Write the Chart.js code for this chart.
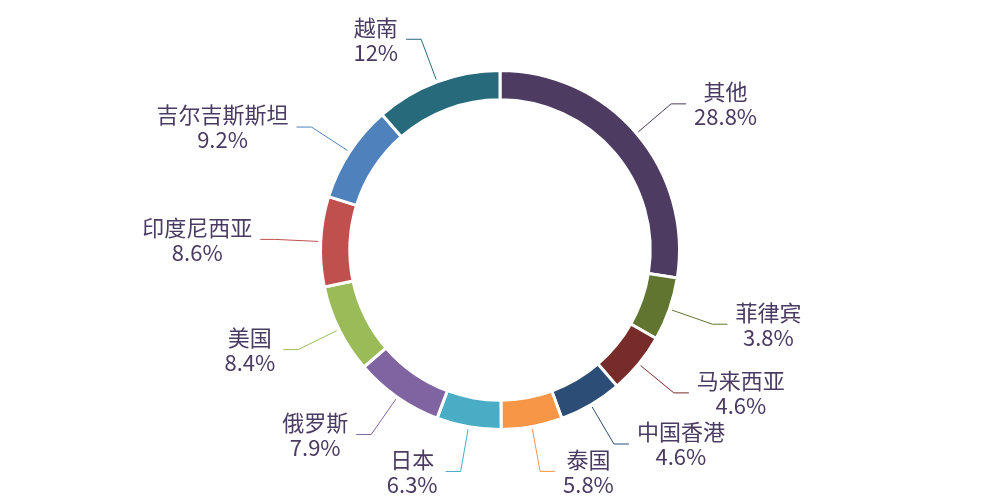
<!DOCTYPE html>
<html>
<head>
<meta charset="utf-8">
<script src="https://cdn.jsdelivr.net/npm/chart.js@4/dist/chart.umd.min.js"></script>
<style>
  html, body { margin: 0; padding: 0; background: #fff; }
  #wrap { width: 1000px; height: 500px; }
</style>
</head>
<body>
<div id="wrap"><canvas id="graficaPaises"></canvas></div>
<script>
// categorías y textos de las etiquetas tal como aparecen
var paises = ['其他', '菲律宾', '马来西亚', '中国香港', '泰国', '日本', '俄罗斯', '美国', '印度尼西亚', '吉尔吉斯斯坦', '越南'];
var etiquetasPct = ['28.8%', '3.8%', '4.6%', '4.6%', '5.8%', '6.3%', '7.9%', '8.4%', '8.6%', '9.2%', '12%'];
// tamaño de cada sector medido en el dibujo (%), no coincide del todo con las etiquetas
var sectores = [27.5, 5.7, 5.5, 5.7, 5.5, 5.8, 8.0, 8.0, 8.1, 8.8, 11.4];

var colores = ['#4D3B62', '#5F7530', '#772C2A', '#2C4D75', '#F79646', '#4BACC6', '#8064A2', '#9BBB59', '#C0504D', '#4F81BD', '#276A7C'];

var colorTexto = '#4A3B63';
var fuente = '22px "Noto Sans CJK SC", "Noto Sans", sans-serif';

// etiquetas exteriores con línea guía
var etiquetasFuera = {
    id: 'etiquetasFuera',
    afterDatasetsDraw: function (chart) {
        var ctx = chart.ctx;
        var meta = chart.getDatasetMeta(0);
        ctx.save();
        ctx.font = fuente;
        meta.data.forEach(function (arc, i) {
            var p = arc.getProps(['x', 'y', 'startAngle', 'endAngle', 'outerRadius'], true);
            var ang = (p.startAngle + p.endAngle) / 2;
            var cos = Math.cos(ang), sin = Math.sin(ang);
            var r0 = p.outerRadius + 2.5;
            var r1 = p.outerRadius + 45.5;
            var x0 = p.x + cos * r0, y0 = p.y + sin * r0;
            var x1 = p.x + cos * r1, y1 = p.y + sin * r1;
            var derecha = x1 >= p.x;
            var x2 = x1 + (derecha ? 15 : -15);

            ctx.strokeStyle = colores[i];
            ctx.lineWidth = 1;
            ctx.beginPath();
            ctx.moveTo(x0, y0);
            ctx.lineTo(x1, y1);
            ctx.lineTo(x2, y1);
            ctx.stroke();

            var w = Math.max(ctx.measureText(paises[i]).width, ctx.measureText(etiquetasPct[i]).width);
            var cx = derecha ? x2 + 8 + w / 2 : x2 - 8 - w / 2;
            ctx.fillStyle = colorTexto;
            ctx.textAlign = 'center';
            ctx.textBaseline = 'middle';
            ctx.fillText(paises[i], cx, y1 - 12);
            ctx.fillText(etiquetasPct[i], cx, y1 + 13);
        });
        ctx.restore();
    }
};

var ctxPaises = document.getElementById('graficaPaises').getContext('2d');
var graficaPaises = new Chart(ctxPaises, {
    type: 'doughnut',
    data: {
        labels: paises,
        datasets: [{
            data: sectores,
            backgroundColor: colores,
            borderColor: '#ffffff',
            borderWidth: 3,
            hoverOffset: 0
        }]
    },
    options: {
        responsive: true,
        maintainAspectRatio: false,
        animation: false,
        cutout: '83.7%',
        layout: {
            padding: { top: 69, bottom: 69 }
        },
        plugins: {
            legend: { display: false },
            tooltip: { enabled: false }
        }
    },
    plugins: [etiquetasFuera]
});
</script>
</body>
</html>
